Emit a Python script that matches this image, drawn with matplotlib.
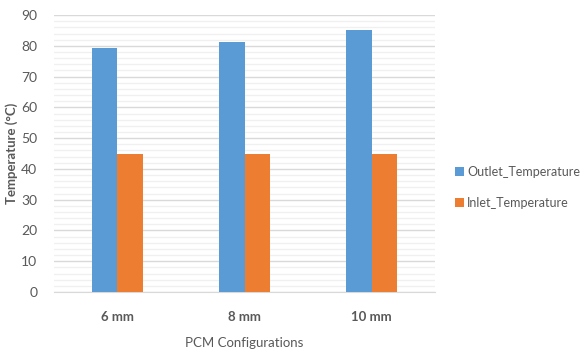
import numpy as np
import matplotlib
matplotlib.use("Agg")
import matplotlib.pyplot as plt
from matplotlib.ticker import MultipleLocator

plt.rcParams["font.family"] = ["Lato", "DejaVu Sans"]

configs = ["6 mm", "8 mm", "10 mm"]
outlet_temp = [79.2, 81.4, 85.0]
inlet_temp = [44.8, 44.8, 44.8]

blue = "#5b9bd5"
orange = "#ed7d31"
text_gray = "#595959"

fig = plt.figure(figsize=(5.85, 3.51), dpi=100)
ax = fig.add_axes([0.0923, 0.168, 0.6513, 0.789])

x = np.arange(len(configs))
width = 0.2
ax.bar(x - width / 2, outlet_temp, width, color=blue, label="Outlet_Temperature", zorder=3)
ax.bar(x + width / 2, inlet_temp, width, color=orange, label="Inlet_Temperature", zorder=3)

ax.set_xlim(-0.5, len(configs) - 0.5)
ax.set_ylim(0, 90)
ax.yaxis.set_major_locator(MultipleLocator(10))
ax.yaxis.set_minor_locator(MultipleLocator(2))
ax.grid(axis="y", which="major", color="#d9d9d9", linewidth=1.0, zorder=0)
ax.grid(axis="y", which="minor", color="#f0f0f0", linewidth=1.0, zorder=0)

for side in ["top", "right", "left"]:
    ax.spines[side].set_visible(False)
ax.spines["bottom"].set_color("#d9d9d9")

ax.set_xticks(x)
ax.set_xticklabels(configs, fontsize=9.5, fontweight="bold", color=text_gray)
ax.tick_params(axis="x", length=0, pad=14)
ax.tick_params(axis="y", which="both", length=0, labelsize=10, labelcolor=text_gray, pad=12)

ax.set_xlabel("PCM Configurations", fontsize=9.5, color=text_gray, labelpad=10)
ax.set_ylabel("Temperature (°C)", fontsize=9.5, fontweight="bold", color=text_gray)
ax.yaxis.set_label_coords(-0.095, 0.5)

ax.legend(loc="upper left", bbox_to_anchor=(1.052, 0.455), frameon=False,
          borderpad=0, borderaxespad=0,
          handlelength=0.7, handleheight=0.7, handletextpad=0.3,
          labelspacing=1.5, fontsize=9, labelcolor=text_gray)

fig.savefig("out.png", dpi=100)
